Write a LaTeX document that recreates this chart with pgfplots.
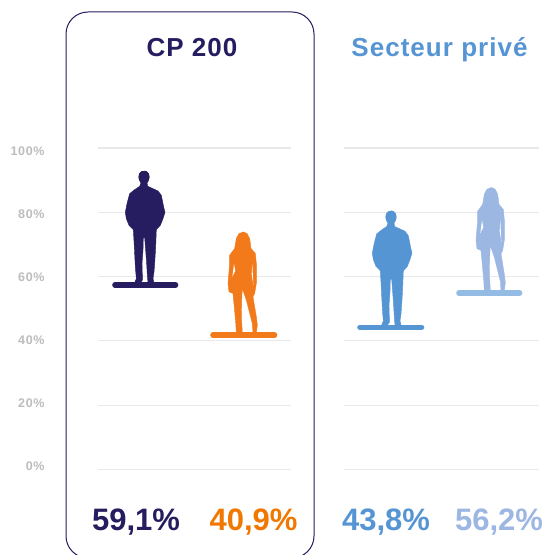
\documentclass[border=0pt]{standalone}
\usepackage{fontspec}
\setmainfont{Liberation Sans}
\newfontfamily\wide[LetterSpace=4]{Liberation Sans}
\newfontfamily\tickf[LetterSpace=5]{Liberation Sans}
\usepackage{pgfplots}
\usepackage{pgfplotstable}
\pgfplotsset{compat=1.18}
\definecolor{navy}{HTML}{251D5F}
\definecolor{orng}{HTML}{F27A1A}
\definecolor{orngt}{HTML}{F07800}
\definecolor{blu}{HTML}{5695D3}
\definecolor{lite}{HTML}{9DB7E3}
\definecolor{litep}{HTML}{93BBE4}
\definecolor{gridc}{HTML}{E9E9EB}
\definecolor{tickc}{HTML}{BDBDBD}
\pgfplotstableread{
zx zy
163 62
170 63
177 70
179 80
177 90
172 98
174 108
190 115
205 122
215 135
222 170
226 186
220 205
212 225
200 238
198 290
195 340
193 365
190 385
193 397
175 397
173 375
171 340
168 300
165 262
161 262
160 300
157 340
158 375
158 390
152 397
135 397
140 385
137 350
134 290
131 238
118 225
110 205
107 186
112 160
120 130
135 118
150 108
154 98
149 90
147 80
149 70
156 63
}\man
\pgfplotstableread{
zx zy
460 245
472 250
480 265
484 295
497 310
500 340
500 400
495 430
490 440
500 500
503 525
500 548
490 548
488 520
470 450
458 415
456 450
455 500
457 530
458 548
440 548
438 515
430 430
418 425
415 400
420 340
420 315
435 295
440 265
448 250
}\woman
\pgfplotstableread{
zx zy
433 342
437 362
428 380
}\gapl
\pgfplotstableread{
zx zy
488 342
491 405
486 372
}\gapr
\newcommand{\mfig}[4]{\addplot[fill=#1,draw=#1,line width=.4pt,mark=none] table[x expr=(\thisrowno{0}-163)/3+#2, y expr=#3+(404-\thisrowno{1})/3*#4] {\man};}
\newcommand{\wfig}[4]{\addplot[fill=#1,draw=#1,line width=.4pt,mark=none] table[x expr=(\thisrowno{0}-460)/3+#2, y expr=#3+(555-\thisrowno{1})/3*#4] {\woman};
\addplot[fill=white,draw=none,mark=none] table[x expr=(\thisrowno{0}-460)/3+#2, y expr=#3+(555-\thisrowno{1})/3*#4] {\gapl};
\addplot[fill=white,draw=none,mark=none] table[x expr=(\thisrowno{0}-460)/3+#2, y expr=#3+(555-\thisrowno{1})/3*#4] {\gapr};}
\pgfplotsset{pers/.style={
  scale only axis, height=321.5pt, ymin=0, ymax=100,
  axis line style={draw=none}, major tick length=0pt,
  xtick=\empty, ytick={0,20,40,60,80,100},
  ymajorgrids, grid style={gridc,line width=1.1pt},
  clip=false, anchor=south west}}
\begin{document}
\begin{tikzpicture}[x=1pt,y=1pt]
\clip (0,0) rectangle (545,555);
\fill[white] (0,0) rectangle (545,555);
\draw[navy,line width=1pt,rounded corners=22pt] (66,-3) rectangle (314,543);
\node[anchor=base,font=\wide\bfseries\fontsize{26}{28}\selectfont,text=navy] at (192,498) {CP 200};
\node[anchor=base,font=\wide\bfseries\fontsize{26}{28}\selectfont,text=blu] at (439.5,498) {Secteur privé};
% tick labels sit on their own scale, as in the reference
\begin{axis}[scale only axis, anchor=south west, at={(98pt,89pt)}, width=193pt, height=315pt,
  xmin=98, xmax=291, ymin=0, ymax=100,
  axis line style={draw=none}, major tick length=0pt, xtick=\empty,
  ytick={0,20,40,60,80,100},
  yticklabel={\pgfmathprintnumber{\tick}\%},
  yticklabel style={font=\tickf\bfseries\fontsize{12.5}{13}\selectfont,text=tickc,xshift=-50pt,
    /pgf/number format/assume math mode=true}]
\end{axis}
\begin{axis}[pers, at={(98pt,85.5pt)}, width=193pt, xmin=98, xmax=291, yticklabels={}]
\mfig{navy}{144}{57.4}{0.311}
\addplot[navy,line width=5.6pt,line cap=round] coordinates {(115,57.4)(175.5,57.4)};
\wfig{orng}{243}{41.8}{0.311}
\addplot[orng,line width=5.6pt,line cap=round] coordinates {(213,41.8)(274.5,41.8)};
\node[font=\bfseries\fontsize{31}{32}\selectfont,text=navy] at (axis cs:136,-16.5) {59,1\%};
\node[font=\bfseries\fontsize{31}{32}\selectfont,text=orngt] at (axis cs:253.5,-16.5) {40,9\%};
\end{axis}
\begin{axis}[pers, at={(344pt,85.5pt)}, width=195pt, xmin=344, xmax=539, yticklabels={}]
\mfig{blu}{391}{44.2}{0.318}
\addplot[blu,line width=5.6pt,line cap=round] coordinates {(360,44.2)(421.5,44.2)};
\wfig{lite}{491}{54.9}{0.318}
\addplot[litep,line width=5.6pt,line cap=round] coordinates {(459,54.9)(519.5,54.9)};
\node[font=\bfseries\fontsize{31}{32}\selectfont,text=blu] at (axis cs:386,-16.5) {43,8\%};
\node[font=\bfseries\fontsize{31}{32}\selectfont,text=lite] at (axis cs:499,-16.5) {56,2\%};
\end{axis}
\end{tikzpicture}
\end{document}
